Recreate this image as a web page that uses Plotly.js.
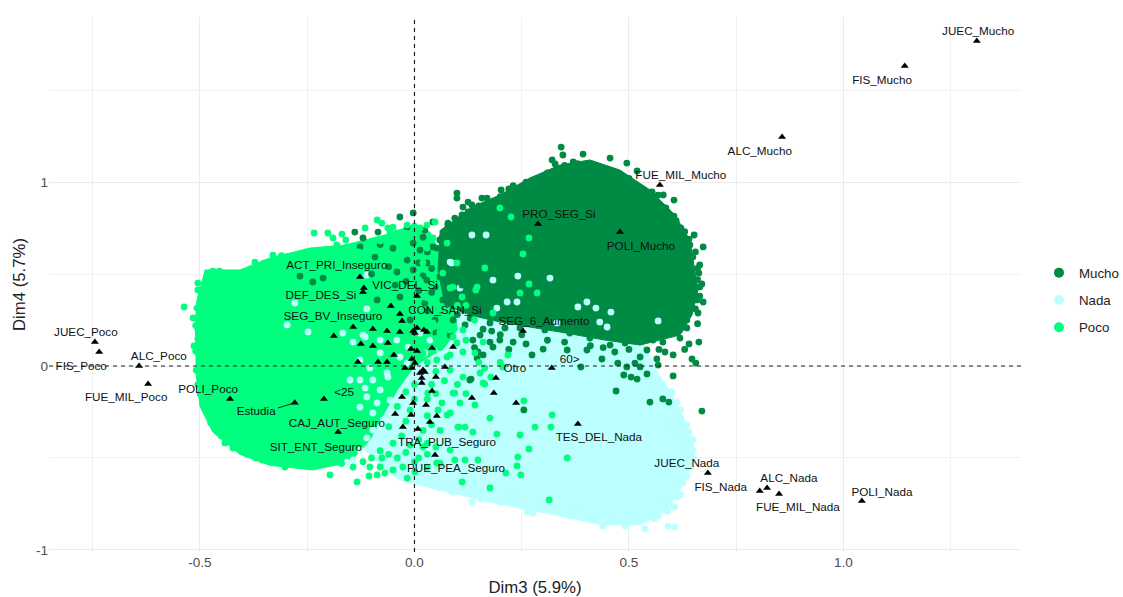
<!DOCTYPE html>
<html><head><meta charset="utf-8">
<script src="https://cdn.plot.ly/plotly-3.0.1.min.js"></script>
<style>html,body{margin:0;padding:0;background:#fff}#c{width:1123px;height:597px}</style>
</head><body><div id="c"></div>
<script>
const groups=['Mucho','Nada','Poco'];
const colours={Mucho:'#008B45',Nada:'#BBFFFF',Poco:'#00FF7F'};
// dense mass of each cloud, outline
const muchoMass=[[.129,.859],[.199,.929],[.269,1.022],[.339,1.092],[.409,1.12],[.479,1.065],[.549,.957],[.607,.821],[.642,.685],[.661,.413],[.647,.277],[.619,.168],[.526,.114],[.444,.141],[.339,.185],[.199,.239],[.129,.277],[.071,.332],[.055,.522],[.06,.739]];
const nadaMass=[[-.034,.087],[.06,.25],[.129,.3],[.339,.26],[.526,.16],[.57,-.05],[.6,-.158],[.635,-.321],[.654,-.457],[.647,-.538],[.619,-.674],[.584,-.793],[.526,-.864],[.439,-.864],[.362,-.826],[.269,-.783],[.176,-.739],[.059,-.674],[-.034,-.62],[-.069,-.565],[-.127,-.429],[-.104,-.13]];
const pocoMass=[[-.512,.196],[-.507,.359],[-.488,.522],[-.407,.522],[-.337,.587],[-.244,.641],[-.162,.658],[-.069,.712],[-.003,.766],[.036,.728],[.071,.565],[.087,.413],[.1,.2],[.07,.1],[0,0],[-.04,-.13],[-.073,-.266],[-.104,-.402],[-.15,-.522],[-.237,-.565],[-.337,-.54],[-.407,-.48],[-.47,-.36],[-.5,-.22],[-.51,-.022]];
// individually visible points
const muchoPoints=[[.342,1.19],[.346,1.147],[.393,1.152],[.456,1.13],[.495,1.103],[.321,1.12],[.328,1.098],[.37,1.109],[.346,1.065],[.362,1.049],[.311,1.011],[.519,1.06],[.428,1.065],[.456,1.038],[.495,1.011],[.533,.957],[.554,.946],[.568,.929],[.605,.902],[.586,.859],[.605,.815],[.6,.777],[.621,.75],[.652,.712],[.642,.658],[.673,.647],[.649,.592],[.665,.549],[.663,.505],[.67,.446],[.649,.413],[.673,.348],[.659,.359],[.661,.288],[.635,.25],
[.099,.94],[.099,.913],[.157,.913],[.202,.957],[.22,.962],[.22,.929],[.169,.913],[.262,.973],[.286,.967],[.125,.891],[.134,.875],[.113,.864],[.16,.848],[.192,.891],[.251,.94],[.293,.918],[.111,.821],[.136,.832],[.094,.804],[.078,.766],[.087,.739],[.064,.696],[.076,.658],[.052,.641],
[-.034,.81],[-.003,.832],[.043,.783],[.078,.777],[.125,.837],[-.085,.728],[-.139,.728],[-.12,.696],[-.017,.755],[.024,.739],[.059,.685],[.013,.63],[.043,.647],[-.003,.668],[.066,.592],[.029,.56],[-.017,.576],[-.003,.522],[-.041,.511],[.048,.429],[-.034,.375],[-.087,.359],[.059,.484],[.029,.467],[-.237,.457],[-.267,.489],[-.213,.478],[-.092,.592],[-.127,.647],[.094,.359],[.024,.342],[.066,.359],[.09,.25],[.176,.234],[.136,.141],[.183,.103],[.129,-.076],[.094,.522],[.111,.44],[.059,.304],[.118,.223],[.083,.168],[.153,.168],[.211,.207],[.199,.141],[.048,.25],[-.01,.25],[-.045,.44],
[.663,.13],[.635,.207],[.619,.152],[.579,.13],[.556,.141],[.533,.152],[.584,.076],[.603,.06],[.565,.038],[.647,.038],[.656,.016],[.542,.087],[.467,.076],[.437,.038],[.474,.016],[.514,.016],[.526,-.005],[.388,-.005],[.495,-.005],[.568,.005],[.603,-.054],[.542,-.043],[.488,-.049],[.505,-.06],[.519,-.071],[.47,-.136],[.549,-.196],[.579,-.179],[.593,-.196],[.67,-.245],[.255,-.239],[.132,-.071],[.148,.076],[.146,.043],[.176,.13],[.23,.13],[.3,.092],[.274,.06],[.356,.087],[.402,.087],[.526,.049],[.246,.207],[.304,.196],[.362,.179],[.409,.152],[.456,.114],[.491,.125],
[.02,.7],[.03,.62],[.01,.56],[.04,.53],[.02,.49],[.04,.4],[.01,.41],[-.02,.46],[-.06,.54],[-.05,.64],[-.08,.66],[-.1,.5],[.03,.3],[.05,.18],[.1,.28],[.13,.26],[.16,.2],[.18,.19],[.2,.17],[.25,.17],[.14,.1],[.16,.06],[.22,.09],[.26,.12],[.31,.14],[.35,.13],[.41,.11],[.44,.1],[.5,.09],[.57,.09],[.63,.09],[.64,.12],[.62,.2],[.66,.23],[.655,.31],[.665,.38],[.665,.43],[.66,.47],[.66,.53],[.655,.62],[.64,.69],[.63,.73],[.61,.79],[.59,.82],[.57,.87],[.55,.9],[.51,.98],[.48,1.02],[.45,1.07],[.41,1.09],[.38,1.1],[.35,1.09],[.31,1.05],[.29,1.0],[.26,1.0],[.23,.98],[.2,.92],[.17,.88],[.15,.87],[.13,.8],[.11,.77],[.1,.72],[.08,.7],[.27,.93],[.33,1.03],[.43,1.03],[.5,1.02],[.58,.93]];
const nadaPoints=[[.572,-.103],[.556,-.103],[.579,-.103],[.612,-.196],[.621,-.283],[.603,-.321],[.635,-.321],[.624,-.359],[.635,-.386],[.635,-.429],[.649,-.457],[.631,-.457],[.626,-.636],[.612,-.663],[.612,-.712],[.596,-.755],[.579,-.755],[.607,-.766],[.568,-.815],[.591,-.87],[.607,-.875],[.537,-.886],[.521,-.848],[.491,-.87],[.439,-.87],[.463,-.848],[.393,-.821],[.362,-.815],[.335,-.793],[.316,-.766],[.276,-.799],[.262,-.793],[.246,-.728],[.183,-.723],[.155,-.723],[.134,-.739],[.118,-.685],[.087,-.685],[.059,-.663],[.043,-.63],[.176,-.658],[.099,-.63],[.223,-.712],[.006,-.609],[.432,.114],
[.6,-.14],[.585,-.13],[.62,-.24],[.64,-.36],[.65,-.4],[.65,-.5],[.645,-.55],[.635,-.6],[.62,-.7],[.59,-.79],[.56,-.83],[.51,-.83],[.46,-.83],[.42,-.83],[.37,-.8],[.3,-.76],[.24,-.75],[.2,-.74],[.15,-.7],[.1,-.67],[.03,-.62],[.07,-.65],
[-.143,.13],[-.12,.168],[-.15,-.076],[-.127,-.076],[-.104,-.011],[-.127,.033],[-.034,.049],[-.062,-.06],[-.115,-.12],[-.08,-.13],[-.087,-.201],[-.057,-.185],[-.097,-.255],[-.073,-.293],[-.027,-.277],[-.05,-.364],[-.017,.016],[-.08,.071],[-.041,.141],[-.015,.103],[.036,.141],[.059,.087],[.013,.179],[.024,.071],[-.248,.185],[-.297,.223],[-.111,.495],[-.279,.342],[-.111,.31],[-.167,.179],[-.08,.141],[-.115,.158],[-.097,-.076],[-.064,-.038],[.083,.565],[.183,.467],[.167,.712],[.134,.712],[.241,.489],[.316,.478],[.402,.348],[.423,.315],[.458,.293],[.381,.321],[.239,.348],[.216,.348],[.192,.315],[.432,.239],[.568,.245],[.332,.234],[.449,.212],[.106,.424],[.087,.56],[-.127,-.223],[-.111,-.168],[-.111,-.391],[-.097,-.348],[-.143,-.511],[-.157,-.522],[-.127,-.457],[-.08,-.332],[-.073,-.402]];
const pocoPoints=[[-.537,.321],[-.505,.451],[-.505,.413],[-.507,.315],[-.516,.261],[-.495,.37],[-.47,.516],[-.446,.505],[-.372,.565],[-.36,.538],[-.407,.478],[-.423,.467],[-.33,.603],[-.311,.587],[-.283,.592],[-.244,.62],[-.22,.63],[-.206,.625],[-.234,.723],[-.202,.723],[-.19,.696],[-.169,.717],[-.181,.658],[-.16,.685],[-.157,.647],[-.087,.794],[-.076,.777],[-.062,.75],[-.05,.755],[-.017,.766],[-.115,.75],[-.514,.109],[-.5,.049],[-.509,-.022],[-.488,-.06],[-.041,.723],[-.057,.723],[.013,.75],[.029,.766],[.043,.696],[.076,.668],[.029,.641],
[-.51,.22],[-.505,.15],[-.51,.08],[-.505,-.1],[-.5,-.15],[-.455,.515],[-.43,.49],[-.39,.5],[-.35,.56],[-.31,.6],[-.26,.6],[-.19,.62],[-.13,.62],[-.1,.65],[-.08,.68],[-.04,.7],[-.02,.72],[.0,.76],
[-.488,-.212],[-.481,-.25],[-.465,-.337],[-.47,-.293],[-.442,-.418],[-.423,-.446],[-.402,-.446],[-.355,-.511],[-.332,-.522],[-.302,-.549],[-.267,-.511],[-.251,-.538],[-.232,-.543],[-.213,-.527],[-.197,-.592],[-.181,-.522],[-.134,-.63],[-.106,-.598],[-.087,-.592],[-.069,-.582],[-.05,-.565],[-.017,-.609],[-.08,-.549],[-.104,-.549],[-.143,-.549],[-.076,-.5],[-.027,-.549],[.001,-.576],
[-.475,-.31],[-.45,-.38],[-.39,-.48],[-.37,-.5],[-.3,-.53],[-.27,-.54],[-.17,-.53],[-.12,-.52],[-.1,-.5],[-.06,-.48],[-.08,-.46],[-.04,-.5],[-.02,-.47],[.01,-.5],[.03,-.48],[-.05,-.42],[-.03,-.38],[-.01,-.43],[.01,-.4],[.03,-.42],[-.06,-.33],[-.02,-.3],[.02,-.35],[.03,-.27],[-.04,-.22],[-.02,-.14],[.0,-.1],[.04,-.1],[.05,-.03],[.03,.02],[.0,.03],[.02,.07],[.06,.1],[.05,.15],
[-.03,-.05],[.03,-.18],[.0,-.18],[.05,-.15],[-.01,-.24],[.04,-.32],[.06,-.35],[.02,-.44],[.05,-.44],[.0,-.52],[.03,-.55],[.06,-.53],[.1,-.1],[.12,-.15],[.07,-.08],
[.076,.049],[.09,.158],[.16,-.092],[.141,-.212],[.106,-.201],[.09,-.147],[.118,-.332],[.101,-.332],[.055,-.239],[.076,-.266],[.031,-.147],[.141,.071],[.164,-.011],[.113,-.06],[.083,-.022],[.052,.033],[.178,-.06],[.164,-.098],[.176,-.283],[.192,-.37],[.246,-.375],[.267,-.451],[.241,-.495],[.239,-.543],[.248,-.592],[.213,-.582],[.176,-.663],[.111,-.63],[.314,-.728],[.321,-.266],[.318,-.332],[.281,-.332],[.356,-.5],[.255,-.19],[.104,-.332],[.136,-.359],[.094,-.511],[.118,-.511],[.148,-.511],[.052,-.527],[.083,-.457],[.218,.06],[.206,-.005],[.153,-.038],[.094,-.147],[.064,-.201],[.083,-.255],[.083,.06],[.099,.125],[.059,.179],[.043,.234],[.083,.196],[.113,.196],[.113,.076],
[.253,.609],[.267,.696],[.225,.81],[.199,.859],[.286,.397],[.267,.446],[.246,.397],[.164,.533],[.143,.413],[.111,.375],[.083,.424],[.066,.505],[.048,.592],[.048,.783],[.099,.56],[.09,.429],[.146,.429],[.183,.288],
[.0,.6],[-.02,.68],[.02,.56],[.01,.47],[.04,.44],[.03,.37],[-.01,.34],[.06,.31],[.1,.33],[.12,.33],[.05,.29],[.14,.25],[.16,.13],[.12,.14],[.15,.02],[.2,.02]];
// category points (black triangles)
const categoryPoints=[[1.311,1.766],[1.143,1.63],[.857,1.245],[.572,.984],[.479,.728],[.288,.772],[.253,.19],[.32,-.011],[.381,-.315],[.684,-.582],[.822,-.663],[.805,-.679],[.85,-.696],[1.043,-.734],[-.745,.13],[-.735,.076],[-.642,0],[-.621,-.098],[-.43,-.179],[-.279,-.2],[-.211,-.179],[-.178,-.359],
[-.127,.484],[-.118,.424],[-.12,.402],[.006,.38],[-.055,.326],[-.034,.283],[-.029,.245],[-.143,.212],[-.097,.201],[-.064,.19],[-.034,.185],[-.003,.19],[.006,.207],[.001,.179],[.022,.196],[.029,.185],[-.188,.163],[-.125,.12],[-.097,.109],[-.062,.125],[-.008,.092],[.006,.082],[.041,.098],[.09,.103],[-.048,.06],[-.006,.038],[-.132,.022],[-.085,.022],[-.064,.022],[.001,.016],[-.022,-.011],[-.006,-.011],[.071,-.005],[.02,-.022],[.013,-.038],[.024,-.033],[.017,-.065],[.017,-.092],[.05,-.06],[.19,-.065],[.185,-.147],[.041,-.136],[-.029,-.168],[-.003,-.201],[.027,-.212],[.134,-.174],[.237,-.201],[.052,-.272],[-.045,-.261],[-.008,-.266],[.036,-.304],[-.027,-.332],[.008,-.342],[.048,-.484]];
const labelTexts=['JUEC_Mucho','FIS_Mucho','ALC_Mucho','FUE_MIL_Mucho','POLI_Mucho','PRO_SEG_Si','SEG_6_Aumento','60>','Otro','TES_DEL_Nada','JUEC_Nada','FIS_Nada','ALC_Nada','FUE_MIL_Nada','POLI_Nada','JUEC_Poco','FIS_Poco','ALC_Poco','FUE_MIL_Poco','POLI_Poco','Estudia','<25','CAJ_AUT_Seguro','SIT_ENT_Seguro','TRA_PUB_Seguro','PUE_PEA_Seguro','ACT_PRI_Inseguro','DEF_DES_Si','VIC_DEL_Si','SEG_BV_Inseguro','CON_SAN_Si'];
const labelX=[1.314,1.09,.805,.621,.528,.337,.302,.362,.234,.43,.635,.714,.873,.894,1.09,-.766,-.777,-.596,-.672,-.481,-.369,-.164,-.181,-.23,.076,.097,-.181,-.218,-.022,-.19,.071];
const labelY=[1.815,1.549,1.163,1.033,.647,.821,.239,.033,-.016,-.391,-.533,-.663,-.614,-.772,-.69,.179,-.005,.049,-.174,-.13,-.25,-.147,-.315,-.446,-.418,-.56,.543,.38,.435,.266,.299];
const leaderX=[-.279,-.318], leaderY=[-.2,-.228];
const xLimits=[-.852,1.414], yLimits=[-1.011,1.897];

const xs=a=>a.map(p=>p[0]), ys=a=>a.map(p=>p[1]);
const mass=(a,c)=>({type:'scatter',mode:'lines',x:xs(a),y:ys(a),fill:'toself',fillcolor:c,line:{color:c,width:1},showlegend:false,hoverinfo:'skip'});
const dots=(a,name)=>({type:'scatter',mode:'markers',name,x:xs(a),y:ys(a),marker:{color:colours[name],size:6.8},showlegend:false,hoverinfo:'skip'});
const key=name=>({type:'scatter',mode:'markers',name,x:[null],y:[null],marker:{color:colours[name],size:10},legendgroup:name});
const traces=[
 mass(nadaMass,colours.Nada),mass(pocoMass,colours.Poco),mass(muchoMass,colours.Mucho),
 dots(nadaPoints,'Nada'),dots(muchoPoints,'Mucho'),dots(pocoPoints,'Poco'),
 key('Mucho'),key('Nada'),key('Poco'),
 {type:'scatter',mode:'lines',x:leaderX,y:leaderY,line:{color:'#222',width:1},showlegend:false,hoverinfo:'skip'},
 {type:'scatter',mode:'markers',x:xs(categoryPoints),y:ys(categoryPoints),marker:{symbol:'triangle-up',color:'#000',size:7},showlegend:false,hoverinfo:'skip'},
 {type:'scatter',mode:'text',x:labelX,y:labelY,text:labelTexts,textposition:'middle center',textfont:{family:'Liberation Sans, Arial, sans-serif',size:11.7,color:'#111'},showlegend:false,hoverinfo:'skip'}
];
const grid={showgrid:true,gridcolor:'#EBEBEB',gridwidth:1,zeroline:false,showline:false,ticks:'',
 tickfont:{family:'Liberation Sans, Arial, sans-serif',size:13.5,color:'#4D4D4D'}};
const layout={width:1123,height:597,margin:{l:49,r:102,t:17,b:45,autoexpand:false},paper_bgcolor:'#fff',plot_bgcolor:'#fff',
 font:{family:'Liberation Sans, Arial, sans-serif'},
 xaxis:Object.assign({},grid,{range:xLimits,tickvals:[-.5,0,.5,1],ticktext:['-0.5','0.0','0.5','1.0'],minor:{tickvals:[-.75,-.25,.25,.75,1.25],showgrid:true,gridcolor:'#F1F1F1',gridwidth:1},
  title:{text:'Dim3 (5.9%)',font:{size:16.8,color:'#222'},standoff:12}}),
 yaxis:Object.assign({},grid,{range:yLimits,tickvals:[-1,0,1],ticktext:['-1','0','1'],minor:{tickvals:[-.5,.5,1.5],showgrid:true,gridcolor:'#F1F1F1',gridwidth:1},
  title:{text:'Dim4 (5.7%)',font:{size:16.8,color:'#222'},standoff:6}}),
 shapes:[
  {type:'line',xref:'paper',x0:0,x1:1,yref:'y',y0:0,y1:0,line:{color:'#222',width:1.2,dash:'4px,4px'},layer:'above'},
  {type:'line',yref:'paper',y0:0,y1:1,xref:'x',x0:0,x1:0,line:{color:'#222',width:1.2,dash:'4px,4px'},layer:'above'}],
 legend:{x:1.0185,xanchor:'left',y:.471,yanchor:'middle',bgcolor:'rgba(0,0,0,0)',font:{size:13.3,color:'#222'},tracegroupgap:7,itemclick:false,itemdoubleclick:false}
};
Plotly.newPlot('c',traces,layout,{displayModeBar:false,staticPlot:true});
</script></body></html>
